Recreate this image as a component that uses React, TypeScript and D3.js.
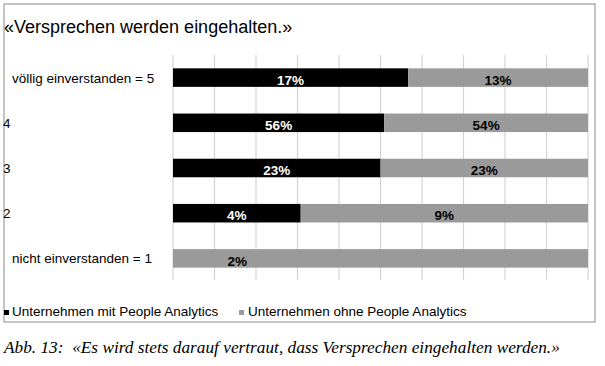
import * as d3 from 'd3';

const categories = ['völlig einverstanden = 5', '4', '3', '2', 'nicht einverstanden = 1'];
const labelIndent = [12, 3, 3, 3, 12];
const mitPA = [17, 56, 23, 4, 0];
const ohnePA = [13, 54, 23, 9, 2];
const seriesNames = ['Unternehmen mit People Analytics', 'Unternehmen ohne People Analytics'];
const gridTicks = d3.range(0, 1.0001, 0.1);

const W = 605;
const H = 366;
const SANS = '"Liberation Sans", Arial, sans-serif';

export default function App() {
    const x = d3.scaleLinear().domain([0, 1]).range([173, 588]);
    const y = d3.scaleBand<string>()
        .domain(categories)
        .range([55, 281])
        .paddingInner(0.59)
        .paddingOuter(0.295);

    const rows = categories.map((c, i) => {
        const total = mitPA[i] + ohnePA[i];
        return { c, i, mit: mitPA[i], ohne: ohnePA[i], share: total ? mitPA[i] / total : 0 };
    });

    return (
        <svg width={W} height={H} style={{ position: 'absolute', left: 0, top: 0, background: '#fff' }}>
            {/* outer frame */}
            <rect x={4} y={4} width={591} height={318} fill="none" stroke="#8a8a8a" strokeWidth={1} />

            <text x={4} y={33} fontFamily={SANS} fontSize={18} fill="#000">
                «Versprechen werden eingehalten.»
            </text>

            {/* Grid */}
            {gridTicks.map((t, k) => (
                <line key={k} x1={x(t)} x2={x(t)} y1={55} y2={280} stroke="#d4d4d4" strokeWidth={1.2} />
            ))}

            {rows.map(r => {
                const y0 = y(r.c) || 0;
                const bh = y.bandwidth();
                const xs = x(r.share);
                // label for row without black segment sits left in the grey bar
                const greyLabelX = r.mit === 0 ? x(0.155) : (xs + x(1)) / 2;
                return (
                    <g key={r.c}>
                        <text x={labelIndent[r.i]} y={y0 + bh / 2 + 5} fontFamily={SANS} fontSize={13.5} fill="#000">
                            {r.c}
                        </text>
                        {r.mit > 0 && <rect x={x(0)} y={y0} width={xs - x(0)} height={bh} fill="#000" />}
                        <rect x={xs} y={y0} width={x(1) - xs} height={bh} fill="#9a9a9a" />
                        {r.mit > 0 && (
                            <text x={(x(0) + xs) / 2} y={y0 + bh - 2} textAnchor="middle" fontFamily={SANS}
                                fontWeight="bold" fontSize={13.5} fill="#fff">{r.mit}%</text>
                        )}
                        <text x={greyLabelX} y={y0 + bh - 2} textAnchor="middle" fontFamily={SANS}
                            fontWeight="bold" fontSize={13.5} fill="#000">{r.ohne}%</text>
                    </g>
                );
            })}

            {/* Legend */}
            <rect x={4} y={310} width={5} height={5} fill="#000" />
            <text x={12} y={316} fontFamily={SANS} fontSize={13.5} fill="#000">{seriesNames[0]}</text>
            <rect x={239} y={310} width={5} height={5} fill="#9a9a9a" />
            <text x={248} y={316} fontFamily={SANS} fontSize={13.5} fill="#000">{seriesNames[1]}</text>

            <text x={4} y={353} fontFamily='"Liberation Serif", "Times New Roman", serif' fontStyle="italic" fontSize={17.3} fill="#000">
                Abb. 13:{'\u00a0\u00a0'}«Es wird stets darauf vertraut, dass Versprechen eingehalten werden.»
            </text>
        </svg>
    );
}
